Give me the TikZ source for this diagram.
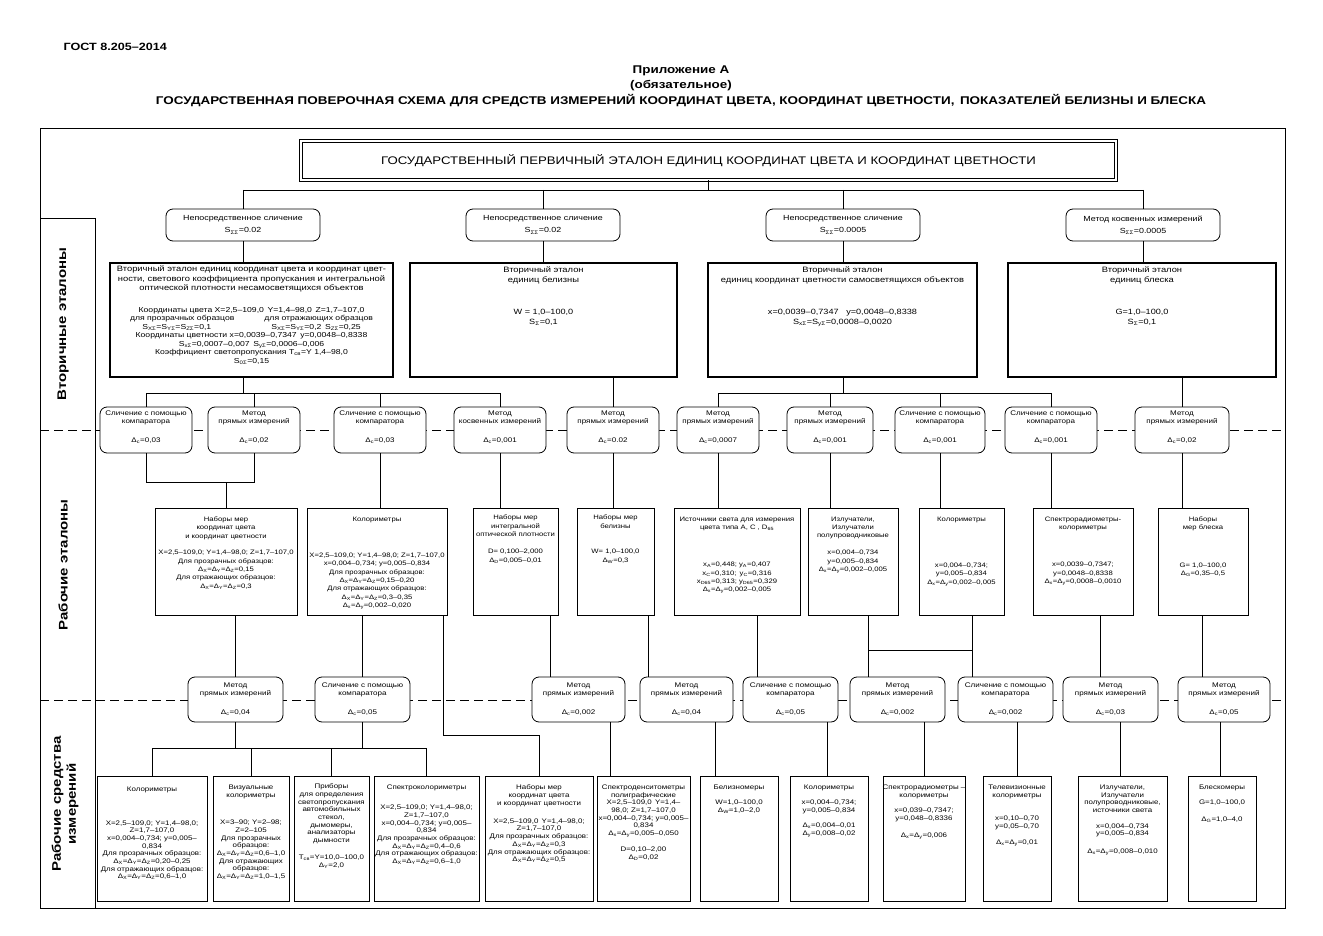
\documentclass[tikz,border=0pt]{standalone}
\usepackage{fontspec}
\setmainfont{Liberation Sans}[FakeStretch=1.2]
\usetikzlibrary{fit}
\newcommand{\dsub}[1]{Δ\textsubscript{#1}}
\newcommand{\ssub}[1]{S\textsubscript{#1}}
\begin{document}
\begin{tikzpicture}[x=1pt,y=-1pt,
 conn/.style={line width=0.7pt},
 box/.style={draw,line width=0.8pt,fill=white,inner sep=0pt},
 sbox/.style={box,line width=1.2pt},
 rbox/.style={box,rounded corners=7pt},
 txt/.style={align=center,inner sep=0pt,anchor=north},
 sepline/.style={line width=0.8pt,dash pattern=on 9pt off 5pt},
 fhdr/.style={font=\bfseries\fontsize{10.5}{12}\selectfont},
 ftitle/.style={font=\bfseries\fontsize{11.2}{14}\selectfont},
 fmain/.style={font=\fontsize{11}{13}\selectfont},
 frr/.style={font=\fontsize{7.4}{9.5}\selectfont},
 fsb/.style={font=\fontsize{7.8}{9.7}\selectfont},
 fss/.style={font=\fontsize{7.2}{8.5}\selectfont},
 fsd/.style={font=\fontsize{7.6}{10}\selectfont},
 fcc/.style={font=\fontsize{6.7}{8.5}\selectfont},
 fww/.style={font=\fontsize{6.4}{8.3}\selectfont},
 fbb/.style={font=\fontsize{6.6}{7.7}\selectfont},
 fside/.style={font=\bfseries\fontsize{12.5}{15}\selectfont},
]
\useasboundingbox (0,0) rectangle (1323,936);
\fill[white] (0,0) rectangle (1323,936);

% header
\node[fhdr,anchor=west] (gost) at (60,47) {ГОСТ 8.205–2014};
\node[ftitle] (app) at (681,71) {Приложение А};
\node[ftitle] (oblig) at (681,86) {(обязательное)};
\node[ftitle] (title) at (681,101) {ГОСУДАРСТВЕННАЯ ПОВЕРОЧНАЯ СХЕМА ДЛЯ СРЕДСТВ ИЗМЕРЕНИЙ КООРДИНАТ ЦВЕТА, КООРДИНАТ ЦВЕТНОСТИ,\enspace ПОКАЗАТЕЛЕЙ БЕЛИЗНЫ И БЛЕСКА};

% frame
\draw[line width=0.8pt] (40,128) rectangle (1285,908);
\draw[line width=0.8pt] (40,218) -- (95,218);
\draw[line width=0.8pt] (95,218) -- (95,908);
\draw[sepline] (40,430) -- (1285,430);
\draw[sepline] (40,700) -- (1285,700);
\node[fside,rotate=90] (lab1) at (63,324) {Вторичные эталоны};
\node[fside,rotate=90] (lab2) at (63,565) {Рабочие эталоны};
\node[fside,rotate=90,align=center] (lab3) at (65,804) {Рабочие средства\\измерений};

% main box
\node[draw,double,double distance=1.8pt,line width=0.9pt,fill=white,inner sep=0pt,fit={(301,141)(1116,180)}] (mainbox) {};
\node[fmain] (maint) at (mainbox.center) {ГОСУДАРСТВЕННЫЙ ПЕРВИЧНЫЙ ЭТАЛОН ЕДИНИЦ КООРДИНАТ ЦВЕТА И КООРДИНАТ ЦВЕТНОСТИ};

% top rounded boxes
\node[rbox,fit={(166,209)(320,241)}] (r1) {};
\node[rbox,fit={(466,209)(620,241)}] (r2) {};
\node[rbox,fit={(766,209)(920,241)}] (r3) {};
\node[rbox,fit={(1066,209)(1220,241)}] (r4) {};
\node[txt,frr] (r1t) at ([yshift=-7pt]r1.north) {Непосредственное сличение\\[2.5pt]\ssub{ΣΣ}=0.02};
\node[txt,frr] (r2t) at ([yshift=-7pt]r2.north) {Непосредственное сличение\\[2.5pt]\ssub{ΣΣ}=0.02};
\node[txt,frr] (r3t) at ([yshift=-7pt]r3.north) {Непосредственное сличение\\[2.5pt]\ssub{ΣΣ}=0.0005};
\node[txt,frr] (r4t) at ([yshift=-7pt]r4.north) {Метод косвенных измерений\\[2.5pt]\ssub{ΣΣ}=0.0005};

% secondary etalons
\node[sbox,fit={(110,263)(393,377)}] (s1) {};
\node[sbox,fit={(410,263)(677,377)}] (s2) {};
\node[sbox,fit={(708,263)(977,377)}] (s3) {};
\node[sbox,fit={(1008,263)(1276,377)}] (s4) {};
\node[txt,fsb] (s1t) at ([yshift=-3.2pt]s1.north) {Вторичный эталон единиц координат цвета и координат цвет-\\ности, светового коэффициента пропускания и интегральной\\оптической плотности несамосветящихся объектов};
\node[txt,fss] (s1d) at ([yshift=-44.5pt]s1.north) {Координаты цвета X=2,5–109,0\enspace Y=1,4–98,0\enspace Z=1,7–107,0\\
для прозрачных образцов\hspace{30pt}для отражающих образцов\\
\ssub{XΣ}=\ssub{YΣ}=\ssub{ZΣ}=0,1\hspace{60pt}\ssub{XΣ}=\ssub{YΣ}=0,2\enspace \ssub{ZΣ}=0,25\\
Координаты цветности x=0,0039–0,7347\enspace y=0,0048–0,8338\\
\ssub{xΣ}=0,0007–0,007\enspace \ssub{yΣ}=0,0006–0,006\\
Коэффициент светопропускания T\textsubscript{св}=Y 1,4–98,0\\
\ssub{0Σ}=0,15};
\node[txt,fsb] (s2t) at ([yshift=-4.2pt]s2.north) {Вторичный эталон\\единиц белизны};
\node[txt,fsd] (s2d) at ([yshift=-46.3pt]s2.north) {W = 1,0–100,0\\\ssub{Σ}=0,1};
\node[txt,fsb] (s3t) at ([yshift=-4.2pt]s3.north) {Вторичный эталон\\единиц координат цветности самосветящихся объектов};
\node[txt,fsd] (s3d) at ([yshift=-46.3pt]s3.north) {x=0,0039–0,7347\quad y=0,0048–0,8338\\\ssub{xΣ}=\ssub{yΣ}=0,0008–0,0020};
\node[txt,fsb] (s4t) at ([yshift=-4.2pt]s4.north) {Вторичный эталон\\единиц блеска};
\node[txt,fsd] (s4d) at ([yshift=-46.3pt]s4.north) {G=1,0–100,0\\\ssub{Σ}=0,1};

% upper comparators
\node[rbox,fit={(100,407)(192,453)}] (c1) {};
\node[rbox,fit={(208,407)(300,453)}] (c2) {};
\node[rbox,fit={(334,407)(426,453)}] (c3) {};
\node[rbox,fit={(454,407)(546,453)}] (c4) {};
\node[rbox,fit={(567,407)(659,453)}] (c5) {};
\node[rbox,fit={(677,407)(759,453)}] (c6) {};
\node[rbox,fit={(787,407)(873,453)}] (c7) {};
\node[rbox,fit={(895,407)(985,453)}] (c8) {};
\node[rbox,fit={(1005,407)(1097,453)}] (c9) {};
\node[rbox,fit={(1135,407)(1229,453)}] (c10) {};
\node[txt,fcc] (c1t) at ([yshift=-4pt]c1.north) {Сличение с помощью\\компаратора\\[10.5pt]\dsub{c}=0,03};
\node[txt,fcc] (c2t) at ([yshift=-4pt]c2.north) {Метод\\прямых измерений\\[10.5pt]\dsub{c}=0,02};
\node[txt,fcc] (c3t) at ([yshift=-4pt]c3.north) {Сличение с помощью\\компаратора\\[10.5pt]\dsub{c}=0,03};
\node[txt,fcc] (c4t) at ([yshift=-4pt]c4.north) {Метод\\косвенных измерений\\[10.5pt]\dsub{c}=0,001};
\node[txt,fcc] (c5t) at ([yshift=-4pt]c5.north) {Метод\\прямых измерений\\[10.5pt]\dsub{c}=0.02};
\node[txt,fcc] (c6t) at ([yshift=-4pt]c6.north) {Метод\\прямых измерений\\[10.5pt]\dsub{c}=0,0007};
\node[txt,fcc] (c7t) at ([yshift=-4pt]c7.north) {Метод\\прямых измерений\\[10.5pt]\dsub{c}=0,001};
\node[txt,fcc] (c8t) at ([yshift=-4pt]c8.north) {Сличение с помощью\\компаратора\\[10.5pt]\dsub{c}=0,001};
\node[txt,fcc] (c9t) at ([yshift=-4pt]c9.north) {Сличение с помощью\\компаратора\\[10.5pt]\dsub{c}=0,001};
\node[txt,fcc] (c10t) at ([yshift=-4pt]c10.north) {Метод\\прямых измерений\\[10.5pt]\dsub{c}=0,02};

% working etalons
\node[box,fit={(155,508)(297,615)}] (w1) {};
\node[box,fit={(307,508)(447,615)}] (w2) {};
\node[box,fit={(473,508)(558,615)}] (w3) {};
\node[box,fit={(577,508)(654,615)}] (w4) {};
\node[box,fit={(674,508)(800,615)}] (w5) {};
\node[box,fit={(808,508)(898,615)}] (w6) {};
\node[box,fit={(919,508)(1004,615)}] (w7) {};
\node[box,fit={(1033,508)(1133,615)}] (w8) {};
\node[box,fit={(1158,508)(1248,615)}] (w9) {};
\node[txt,fww] (w1t) at ([yshift=-9pt]w1.north) {Наборы мер\\координат цвета\\и координат цветности\\[8.6pt]X=2,5–109,0; Y=1,4–98,0; Z=1,7–107,0\\Для прозрачных образцов:\\\dsub{X}=\dsub{Y}=\dsub{Z}=0,15\\Для отражающих образцов:\\\dsub{X}=\dsub{Y}=\dsub{Z}=0,3};
\node[txt,fww] (w2t) at ([yshift=-9pt]w2.north) {Колориметры\\[28pt]X=2,5–109,0; Y=1,4–98,0; Z=1,7–107,0\\x=0,004–0,734; y=0,005–0,834\\Для прозрачных образцов:\\\dsub{X}=\dsub{Y}=\dsub{Z}=0,15–0,20\\Для отражающих образцов:\\\dsub{X}=\dsub{Y}=\dsub{Z}=0,3–0,35\\\dsub{x}=\dsub{y}=0,002–0,020};
\node[txt,fww] (w3t) at ([yshift=-7.4pt]w3.north) {Наборы мер\\интегральной\\оптической плотности\\[9pt]D= 0,100–2,000\\\dsub{D}=0,005–0,01};
\node[txt,fww] (w4t) at ([yshift=-7.4pt]w4.north) {Наборы мер\\белизны\\[17.4pt]W= 1,0–100,0\\\dsub{W}=0,3};
\node[txt,fww] (w5t) at ([yshift=-9pt]w5.north) {Источники света для измерения\\цвета типа А, С , D\textsubscript{65}\\[29pt]x\textsubscript{A}=0,448; y\textsubscript{A}=0,407\\x\textsubscript{C}=0,310;\enspace y\textsubscript{C}=0,316\\x\textsubscript{D65}=0,313; y\textsubscript{D65}=0,329\\\dsub{x}=\dsub{y}=0,002–0,005};
\node[txt,fww] (w6t) at ([yshift=-9pt]w6.north) {Излучатели,\\Излучатели\\полупроводниковые\\[8.6pt]x=0,004–0,734\\y=0,005–0,834\\\dsub{x}=\dsub{y}=0,002–0,005};
\node[txt,fww] (w7t) at ([yshift=-9pt]w7.north) {Колориметры\\[38pt]x=0,004–0,734;\\y=0,005–0,834\\\dsub{x}=\dsub{y}=0,002–0,005};
\node[txt,fww] (w8t) at ([yshift=-9pt]w8.north) {Спектрорадиометры-\\колориметры\\[29pt]x=0,0039–0,7347;\\y=0,0048–0,8338\\\dsub{x}=\dsub{y}=0,0008–0,0010};
\node[txt,fww] (w9t) at ([yshift=-9pt]w9.north) {Наборы\\мер блеска\\[29pt]G= 1,0–100,0\\\dsub{G}=0,35–0,5};

% lower comparators
\node[rbox,fit={(188,677)(283,722)}] (l1) {};
\node[rbox,fit={(315,677)(410,722)}] (l2) {};
\node[rbox,fit={(532,677)(625,722)}] (l3) {};
\node[rbox,fit={(640,677)(733,722)}] (l4) {};
\node[rbox,fit={(743,677)(838,722)}] (l5) {};
\node[rbox,fit={(850,677)(945,722)}] (l6) {};
\node[rbox,fit={(958,677)(1053,722)}] (l7) {};
\node[rbox,fit={(1063,677)(1158,722)}] (l8) {};
\node[rbox,fit={(1178,677)(1270,722)}] (l9) {};
\node[txt,fcc] (l1t) at ([yshift=-6pt]l1.north) {Метод\\прямых измерений\\[10.5pt]\dsub{c}=0,04};
\node[txt,fcc] (l2t) at ([yshift=-6pt]l2.north) {Сличение с помощью\\компаратора\\[10.5pt]\dsub{c}=0,05};
\node[txt,fcc] (l3t) at ([yshift=-6pt]l3.north) {Метод\\прямых измерений\\[10.5pt]\dsub{c}=0,002};
\node[txt,fcc] (l4t) at ([yshift=-6pt]l4.north) {Метод\\прямых измерений\\[10.5pt]\dsub{c}=0,04};
\node[txt,fcc] (l5t) at ([yshift=-6pt]l5.north) {Сличение с помощью\\компаратора\\[10.5pt]\dsub{c}=0,05};
\node[txt,fcc] (l6t) at ([yshift=-6pt]l6.north) {Метод\\прямых измерений\\[10.5pt]\dsub{c}=0,002};
\node[txt,fcc] (l7t) at ([yshift=-6pt]l7.north) {Сличение с помощью\\компаратора\\[10.5pt]\dsub{c}=0,002};
\node[txt,fcc] (l8t) at ([yshift=-6pt]l8.north) {Метод\\прямых измерений\\[10.5pt]\dsub{c}=0,03};
\node[txt,fcc] (l9t) at ([yshift=-6pt]l9.north) {Метод\\прямых измерений\\[10.5pt]\dsub{c}=0,05};

% working measuring instruments
\node[box,fit={(97,776)(207,901)}] (b1) {};
\node[box,fit={(213,776)(289,901)}] (b2) {};
\node[box,fit={(294,776)(369,901)}] (b3) {};
\node[box,fit={(374,776)(479,901)}] (b4) {};
\node[box,fit={(485,776)(593,901)}] (b5) {};
\node[box,fit={(597,776)(690,901)}] (b6) {};
\node[box,fit={(700,776)(778,901)}] (b7) {};
\node[box,fit={(790,776)(868,901)}] (b8) {};
\node[box,fit={(883,776)(965,901)}] (b9) {};
\node[box,fit={(983,776)(1051,901)}] (b10) {};
\node[box,fit={(1078,776)(1167,901)}] (b11) {};
\node[box,fit={(1188,776)(1256,901)}] (b12) {};
\node[txt,fbb] (b1t) at ([yshift=-11pt]b1.north) {Колориметры\\[26pt]X=2,5–109,0; Y=1,4–98,0;\\Z=1,7–107,0\\x=0,004–0,734; y=0,005–\\0,834\\Для прозрачных образцов:\\\dsub{X}=\dsub{Y}=\dsub{Z}=0,20–0,25\\Для отражающих образцов:\\\dsub{X}=\dsub{Y}=\dsub{Z}=0,6–1,0};
\node[txt,fbb] (b2t) at ([yshift=-9pt]b2.north) {Визуальные\\колориметры\\[20pt]X=3–90; Y=2–98;\\Z=2–105\\Для прозрачных\\образцов:\\\dsub{X}=\dsub{Y}=\dsub{Z}=0,6–1,0\\Для отражающих\\образцов:\\\dsub{X}=\dsub{Y}=\dsub{Z}=1,0–1,5};
\node[txt,fbb] (b3t) at ([yshift=-8pt]b3.north) {Приборы\\для определения\\светопропускания\\автомобильных\\стекол,\\дымомеры,\\анализаторы\\дымности\\[9.7pt]T\textsubscript{св}=Y=10,0–100,0\\\dsub{Y}=2,0};
\node[txt,fbb] (b4t) at ([yshift=-9pt]b4.north) {Спектроколориметры\\[12.5pt]X=2,5–109,0; Y=1,4–98,0;\\Z=1,7–107,0\\x=0,004–0,734; y=0,005–\\0,834\\Для прозрачных образцов:\\\dsub{X}=\dsub{Y}=\dsub{Z}=0,4–0,6\\Для отражающих образцов:\\\dsub{X}=\dsub{Y}=\dsub{Z}=0,6–1,0};
\node[txt,fbb] (b5t) at ([yshift=-9pt]b5.north) {Наборы мер\\координат цвета\\и координат цветности\\[10.5pt]X=2,5–109,0\enspace Y=1,4–98,0;\\Z=1,7–107,0\\Для прозрачных образцов:\\\dsub{X}=\dsub{Y}=\dsub{Z}=0,3\\Для отражающих образцов:\\\dsub{X}=\dsub{Y}=\dsub{Z}=0,5};
\node[txt,fbb] (b6t) at ([yshift=-9pt]b6.north) {Спектроденситометры\\полиграфические\\X=2,5–109,0\enspace Y=1,4–\\98,0; Z=1,7–107,0\\x=0,004–0,734; y=0,005–\\0,834\\\dsub{x}=\dsub{y}=0,005–0,050\\[8.5pt]D=0,10–2,00\\\dsub{D}=0,02};
\node[txt,fbb] (b7t) at ([yshift=-9pt]b7.north) {Белизномеры\\[7.5pt]W=1,0–100,0\\\dsub{W}=1,0–2,0};
\node[txt,fbb] (b8t) at ([yshift=-9pt]b8.north) {Колориметры\\[7.5pt]x=0,004–0,734;\\y=0,005–0,834\\[8pt]\dsub{x}=0,004–0,01\\\dsub{y}=0,008–0,02};
\node[txt,fbb] (b9t) at ([yshift=-9pt]b9.north) {Спектрорадиометры –\\колориметры\\[8pt]x=0,039–0,7347;\\y=0,048–0,8336\\[9pt]\dsub{x}=\dsub{y}=0,006};
\node[txt,fbb] (b10t) at ([yshift=-9pt]b10.north) {Телевизионные\\колориметры\\[16pt]x=0,10–0,70\\y=0,05–0,70\\[8pt]\dsub{x}=\dsub{y}=0,01};
\node[txt,fbb] (b11t) at ([yshift=-9pt]b11.north) {Излучатели,\\Излучатели\\полупроводниковые,\\источники света\\[8pt]x=0,004–0,734\\y=0,005–0,834\\[10pt]\dsub{x}=\dsub{y}=0,008–0,010};
\node[txt,fbb] (b12t) at ([yshift=-9pt]b12.north) {Блескомеры\\[7.5pt]G=1,0–100,0\\[9pt]\dsub{G}=1,0–4,0};

% ---- connectors ----
\coordinate (busA) at (0,190);
\coordinate (busB) at (0,393);
\coordinate (busC) at (0,482);
\coordinate (busD) at (0,735);
\coordinate (busE) at (0,650);
\coordinate (busF) at (0,748);
\draw[conn] (mainbox.south) -- (mainbox.south |- busA);
\draw[conn] (r1.north |- busA) -- (r4.north |- busA);
\foreach \n in {r1,r2,r3,r4} \draw[conn] (\n.north |- busA) -- (\n.north);
\foreach \n/\m in {r1/s1,r2/s2,r3/s3,r4/s4} \draw[conn] (\n.south) -- (\n.south |- \m.north);
% S -> C
\draw[conn] (s1.south -| r1.south) -- (r1.south |- busB);
\draw[conn] (c1.north |- busB) -- (c4.north |- busB);
\foreach \n in {c1,c2,c3,c4} \draw[conn] (\n.north |- busB) -- (\n.north);
\draw[conn] (s2.south -| c5.north) -- (c5.north);
\draw[conn] (s3.south -| r3.south) -- (r3.south |- busB);
\draw[conn] (c6.north |- busB) -- (c9.north |- busB);
\foreach \n in {c6,c7,c8,c9} \draw[conn] (\n.north |- busB) -- (\n.north);
\draw[conn] (s4.south -| c10.north) -- (c10.north);
% C -> W
\draw[conn] (c1.south) -- (c1.south |- busC) -- (c2.south |- busC) -- (c2.south);
\draw[conn] (w1.north) -- (w1.north |- busC);
\foreach \n/\m in {c3/w2,c4/w3,c5/w4,c6/w5,c7/w6,c8/w7,c9/w8,c10/w9} \draw[conn] (\n.south) -- (\n.south |- \m.north);
% W -> L
\draw[conn] (w1.south -| l1.north) -- (l1.north);
\draw[conn] (w2.south -| l2.north) -- (l2.north);
\draw[conn] ([xshift=-4pt]w2.south east) |- (b5.north |- busD) -- (b5.north);
\coordinate (x3) at (550,0);
\coordinate (x4) at (648,0);
\coordinate (x5) at (757,0);
\coordinate (x6) at (868,0);
\coordinate (x7) at (972,0);
\coordinate (x8) at (1100,0);
\coordinate (x9) at (1202,0);
\draw[conn] (w3.south -| x3) -- (l3.north -| x3);
\draw[conn] (w4.south -| x4) -- (l4.north -| x4);
\draw[conn] (w5.south -| x5) -- (l5.north -| x5);
\draw[conn] (w6.south -| x6) -- (l6.north -| x6);
\draw[conn] (x6 |- busE) -- (x7 |- busE);
\draw[conn] (w7.south -| x7) -- (l7.north -| x7);
\draw[conn] (w8.south -| x8) -- (l8.north -| x8);
\draw[conn] (w9.south -| x9) -- (l9.north -| x9);
% L -> B
\draw[conn] (b1.north |- busF) -- (b4.north |- busF);
\foreach \n in {b1,b2,b3,b4} \draw[conn] (\n.north |- busF) -- (\n.north);
\draw[conn] (l1.south) -- (l1.south |- busF);
\draw[conn] (l2.south) -- (l2.south |- busF);
\coordinate (y3) at (610,0);
\coordinate (y4) at (715,0);
\coordinate (y5) at (827,0);
\coordinate (y6) at (924,0);
\coordinate (y7) at (1017,0);
\coordinate (y8) at (1120,0);
\coordinate (y9) at (1220,0);
\draw[conn] (l3.south -| y3) -- (b6.north -| y3);
\draw[conn] (l4.south -| y4) -- (b7.north -| y4);
\draw[conn] (l5.south -| y5) -- (b8.north -| y5);
\draw[conn] (l6.south -| y6) -- (b9.north -| y6);
\draw[conn] (l7.south -| y7) -- (b10.north -| y7);
\draw[conn] (l8.south -| y8) -- (b11.north -| y8);
\draw[conn] (l9.south -| y9) -- (b12.north -| y9);
\end{tikzpicture}
\end{document}
